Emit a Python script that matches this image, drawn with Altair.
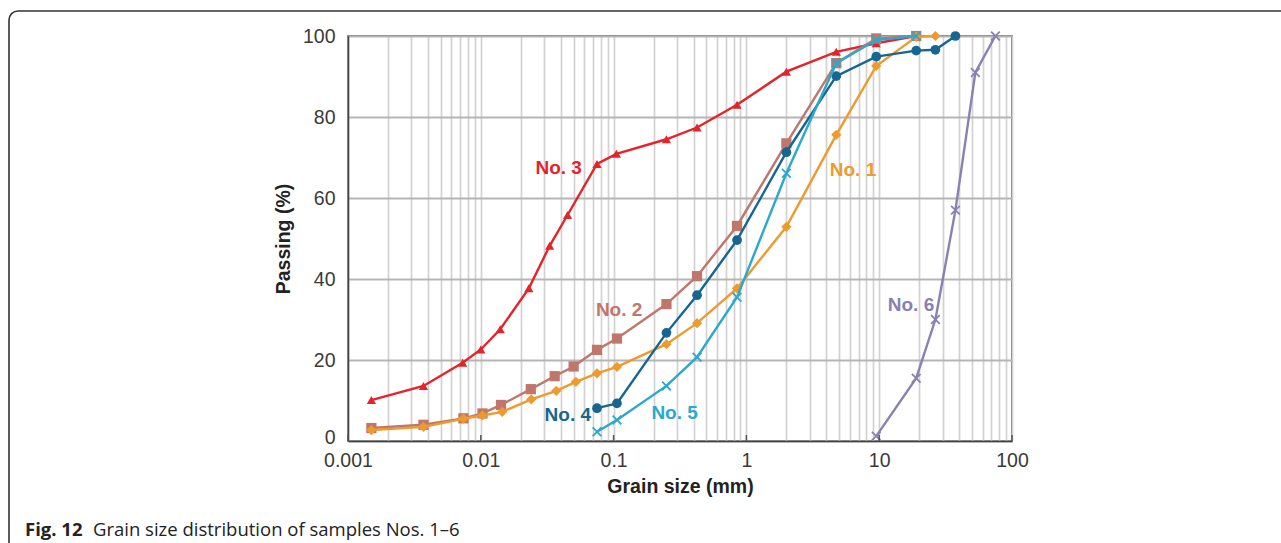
import altair as alt
import pandas as pd

# Grain size (mm) and percent passing for each sample
no1_size = [0.0015, 0.0037, 0.0074, 0.0103, 0.0145, 0.024, 0.037, 0.052, 0.075, 0.106,
            0.25, 0.425, 0.85, 2.0, 4.75, 9.5, 19, 26.5]
no1_pass = [2.7, 3.5, 5.5, 6.3, 7.2, 10.3, 12.4, 14.6, 16.7, 18.3,
            23.9, 29.1, 37.7, 52.9, 75.6, 92.6, 99.8, 100]

no2_size = [0.0015, 0.0037, 0.0074, 0.0103, 0.0142, 0.0238, 0.036, 0.05, 0.075, 0.106,
            0.25, 0.425, 0.85, 2.0, 4.75, 9.5, 19]
no2_pass = [3.2, 4.0, 5.6, 6.8, 8.9, 12.8, 16.0, 18.4, 22.5, 25.3,
            33.8, 40.7, 53.1, 73.5, 93.3, 99.4, 100]

no3_size = [0.0015, 0.0037, 0.0073, 0.01, 0.014, 0.023, 0.033, 0.045, 0.075, 0.105,
            0.25, 0.425, 0.85, 2.0, 4.75, 9.5, 19]
no3_pass = [10.1, 13.6, 19.3, 22.6, 27.6, 37.7, 48.2, 55.8, 68.4, 70.9,
            74.5, 77.4, 83.0, 91.2, 96.1, 98.2, 100]

no4_size = [0.075, 0.106, 0.25, 0.425, 0.85, 2.0, 4.75, 9.5, 19, 26.5, 37.5]
no4_pass = [8.1, 9.3, 26.7, 36.0, 49.6, 71.3, 90.1, 94.9, 96.4, 96.6, 100]

no5_size = [0.075, 0.106, 0.25, 0.425, 0.85, 2.0, 4.75, 9.5, 19]
no5_pass = [2.3, 5.2, 13.6, 20.7, 35.5, 66.1, 93.3, 99.0, 100]

no6_size = [9.5, 19, 26.5, 37.5, 53, 75]
no6_pass = [1.2, 15.5, 30.0, 57.0, 91.0, 100]

# Sample label names and the (size, passing) spot each one sits at
label_names = ["No. 1", "No. 2", "No. 3", "No. 4", "No. 5", "No. 6"]
label_size = [6.35, 0.110, 0.0386, 0.0452, 0.288, 17.35]
label_pass = [66.9, 32.3, 67.3, 6.4, 6.9, 33.6]

colors = {
    "No. 1": "#ee9a2e",
    "No. 2": "#c0776b",
    "No. 3": "#e3242b",
    "No. 4": "#17668f",
    "No. 5": "#2ba9cc",
    "No. 6": "#8a80b2",
}

W, H = 664, 405
PAD = {"left": 348, "top": 36, "right": 269, "bottom": 102}

decades = [0.001, 0.01, 0.1, 1, 10, 100]
minor_values = [float(f"{m}e{k}") for k in range(-3, 2) for m in range(1, 10)] + [100.0]

x_scale = alt.Scale(type="log", domain=[0.001, 100], nice=False)
y_scale = alt.Scale(domain=[0, 100], nice=False)

x_axis = alt.Axis(
    values=minor_values,
    labelExpr="abs(log(datum.value)/LN10 - round(log(datum.value)/LN10)) < 1e-6 ? format(datum.value, '~g') : ''",
    labelFlush=False,
    labelOverlap=False,
    ticks=False,
    labelPadding=10,
    grid=True,
    gridColor="#d2d2d2",
    gridWidth=1.7,
    title="Grain size (mm)",
    titleY=45,
    titleBaseline="middle",
)
y_axis = alt.Axis(
    values=[0, 20, 40, 60, 80, 100],
    ticks=False,
    labelPadding=13,
    labelOffset={"condition": {"test": "datum.value == 0", "value": -4}, "value": 0},
    grid=True,
    gridColor="#b5b5b5",
    gridWidth=1.9,
    title="Passing (%)",
    titleX=-65,
    titleY=H / 2,
    titleAlign="center",
    titleBaseline="middle",
)


def series_layers(name, size, passing, shape, filled, msize):
    df = pd.DataFrame({"size": size, "passing": passing, "sample": name})
    c = colors[name]
    base = alt.Chart(df).encode(
        x=alt.X("size:Q", scale=x_scale, axis=x_axis),
        y=alt.Y("passing:Q", scale=y_scale, axis=y_axis),
    )
    line = base.mark_line(color=c, strokeWidth=2.4)
    if filled:
        pts = base.mark_point(shape=shape, filled=True, color=c, size=msize, opacity=1)
    else:
        pts = base.mark_point(shape=shape, filled=False, color=c, size=msize,
                              strokeWidth=1.8, opacity=1)
    return [line, pts]


xshape = "M-1,-1L1,1M-1,1L1,-1"

layers = []
layers += series_layers("No. 6", no6_size, no6_pass, xshape, False, 75)
layers += series_layers("No. 3", no3_size, no3_pass, "triangle-up", True, 85)
layers += series_layers("No. 2", no2_size, no2_pass, "square", True, 105)
layers += series_layers("No. 1", no1_size, no1_pass, "diamond", True, 105)
layers += series_layers("No. 4", no4_size, no4_pass, "circle", True, 95)
layers += series_layers("No. 5", no5_size, no5_pass, xshape, False, 75)

# short inward ticks at each decade along the bottom axis
ticks = alt.Chart(pd.DataFrame({"size": decades})).mark_rule(color="#555", strokeWidth=1.5).encode(
    x=alt.X("size:Q", scale=x_scale),
    y=alt.value(H - 6),
    y2=alt.value(H),
)

labels_df = pd.DataFrame({
    "name": label_names,
    "size": label_size,
    "passing": label_pass,
    "color": [colors[n] for n in label_names],
})
labels = alt.Chart(labels_df).mark_text(
    font="Liberation Sans", fontSize=19, fontWeight="bold", align="center", baseline="middle"
).encode(
    x=alt.X("size:Q", scale=x_scale),
    y=alt.Y("passing:Q", scale=y_scale),
    text="name:N",
    color=alt.Color("color:N", scale=None),
)

one = pd.DataFrame({"k": [0]})
frame = alt.Chart(one).mark_rect(
    fillOpacity=0, stroke="#333", strokeWidth=1.6, cornerRadius=9
).encode(
    x=alt.value(-PAD["left"] + 9),
    y=alt.value(-PAD["top"] + 11),
    x2=alt.value(W + PAD["right"] + 40),
    y2=alt.value(H + PAD["bottom"] + 40),
)

cap_bold = alt.Chart(one).mark_text(
    text="Fig. 12", font="Open Sans", fontSize=18.5, fontWeight="bold",
    align="left", baseline="alphabetic", color="#222",
).encode(x=alt.value(-PAD["left"] + 25), y=alt.value(536 - PAD["top"]))

cap_text = alt.Chart(one).mark_text(
    text="Grain size distribution of samples Nos. 1\u20136", font="Open Sans", fontSize=18.5,
    align="left", baseline="alphabetic", color="#222",
).encode(x=alt.value(-PAD["left"] + 93), y=alt.value(536 - PAD["top"]))

chart = alt.layer(*layers, ticks, labels, frame, cap_bold, cap_text).properties(
    width=W,
    height=H,
    padding=PAD,
    autosize=alt.AutoSizeParams(type="none"),
    background="white",
).configure_axis(
    labelFont="Liberation Sans",
    labelFontSize=19.5,
    labelColor="#3a3a3a",
    titleFont="Liberation Sans",
    titleFontSize=19.5,
    titleFontWeight="bold",
    titleColor="#222",
    domainColor="#444",
    domainWidth=1.5,
).configure_view(
    stroke="#444",
    strokeWidth=1.5,
)

chart.save("out.html", embed_options={"renderer": "svg", "actions": False})
